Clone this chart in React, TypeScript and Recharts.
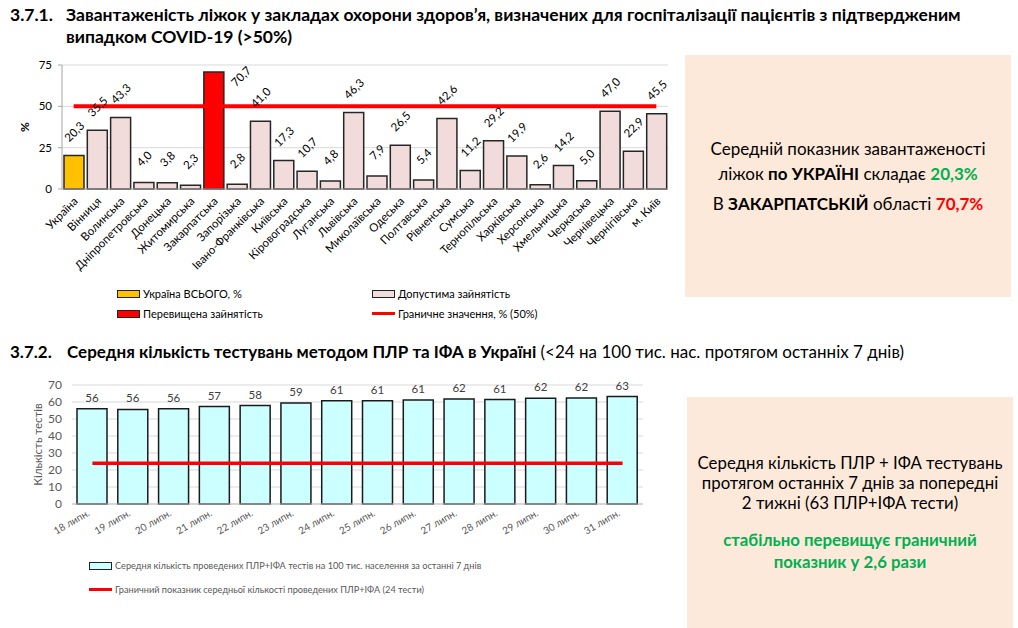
import React from 'react';
import { BarChart, Bar, XAxis, YAxis, CartesianGrid, Cell, LabelList, ReferenceLine, Legend } from 'recharts';

const FONT = 'Lato, "Noto Sans", sans-serif';

// 3.7.1 — bed occupancy by region, %
const regions = [
  'Україна', 'Вінниця', 'Волинська', 'Дніпропетровська', 'Донецька', 'Житомирська', 'Закарпатська',
  'Запорізька', 'Івано-Франківська', 'Київська', 'Кіровоградська', 'Луганська', 'Львівська',
  'Миколаївська', 'Одеська', 'Полтавська', 'Рівненська', 'Сумська', 'Тернопільська', 'Харківська',
  'Херсонська', 'Хмельницька', 'Черкаська', 'Чернівецька', 'Чернігівська', 'м. Київ',
];
const occupancy = [
  20.3, 35.5, 43.3, 4.0, 3.8, 2.3, 70.7, 2.8, 41.0, 17.3, 10.7, 4.8, 46.3,
  7.9, 26.5, 5.4, 42.6, 11.2, 29.2, 19.9, 2.6, 14.2, 5.0, 47.0, 22.9, 45.5,
];
const occupancyTicks = [0, 25, 50, 75];
const BED_LIMIT = 50;

// 3.7.2 — PCR + ELISA tests per 100k, 7-day average
const days = [
  '18 липн.', '19 липн.', '20 липн.', '21 липн.', '22 липн.', '23 липн.', '24 липн.',
  '25 липн.', '26 липн.', '27 липн.', '28 липн.', '29 липн.', '30 липн.', '31 липн.',
];
const testsPer100k = [56.1, 55.6, 56.1, 57.3, 57.9, 59.4, 60.8, 60.8, 61.2, 61.8, 61.4, 62.2, 62.4, 63.2];
const testTicks = [0, 10, 20, 30, 40, 50, 60, 70];
const TEST_LIMIT = 24;

const bedData = regions.map((name, i) => ({ name, value: occupancy[i] }));
const testData = days.map((day, i) => ({ day, value: testsPer100k[i] }));

const fmtComma = (v: any) => Number(v).toFixed(1).replace('.', ',');

const barFill = (name: string, value: number) => {
  if (name === 'Україна') return '#FFC000';
  if (value > BED_LIMIT) return '#FF0000';
  return '#F2DCDB';
};

const BedLabel = (props: any) => {
  const { x, y, width, value } = props;
  const cx = Number(x) + Number(width) / 2;
  let lx = cx;
  let ly = Number(y) - 24;
  // no room above the plot: Excel moves the label beside the bar
  if (ly < 15) {
    lx = cx + 27;
    ly = Number(y) + 4;
  }
  return (
    <text x={lx} y={ly} transform={`rotate(-45 ${lx} ${ly})`} textAnchor="middle"
      dominantBaseline="central" fontSize={11.5} fill="#000" fontFamily={FONT}>
      {fmtComma(value)}
    </text>
  );
};

const RegionTick = (props: any) => {
  const { x, y, payload } = props;
  const px = x + 5;
  const py = y + 5;
  return (
    <text x={px} y={py} transform={`rotate(-45 ${px} ${py})`} textAnchor="end"
      fontSize={11.5} fill="#000" fontFamily={FONT}>
      {payload.value}
    </text>
  );
};

const DayTick = (props: any) => {
  const { x, y, payload } = props;
  const px = x - 2;
  const py = y + 3;
  return (
    <text x={px} y={py} transform={`rotate(-30 ${px} ${py})`} textAnchor="end"
      fontSize={10} fill="#595959" fontFamily={FONT}>
      {payload.value}
    </text>
  );
};

const Swatch = ({ fill }: { fill: string }) => (
  <span style={{ display: 'inline-block', width: 21, height: 6, background: fill, border: '1px solid #222', marginRight: 3 }} />
);
const RedDash = () => (
  <span style={{ display: 'inline-block', width: 23, height: 3, background: '#FF0000', marginRight: 3, verticalAlign: 'middle' }} />
);

const BedLegend = () => (
  <div style={{ position: 'relative', width: 680, height: 40, fontFamily: FONT, fontSize: 11, color: '#000' }}>
    <div style={{ position: 'absolute', left: 117, top: 0, display: 'flex', alignItems: 'center' }}><Swatch fill="#FFC000" />Україна ВСЬОГО, %</div>
    <div style={{ position: 'absolute', left: 372, top: 0, display: 'flex', alignItems: 'center' }}><Swatch fill="#F2DCDB" />Допустима зайнятість</div>
    <div style={{ position: 'absolute', left: 117, top: 20, display: 'flex', alignItems: 'center' }}><Swatch fill="#FF0000" />Перевищена зайнятість</div>
    <div style={{ position: 'absolute', left: 372, top: 20, display: 'flex', alignItems: 'center' }}><RedDash />Граничне значення, % (50%)</div>
  </div>
);

const TestLegend = () => (
  <div style={{ position: 'relative', width: 660, height: 44, fontFamily: FONT, fontSize: 9.2, color: '#595959' }}>
    <div style={{ position: 'absolute', left: 89, top: 0, display: 'flex', alignItems: 'center' }}><Swatch fill="#CCFFFF" />Середня кількість проведених ПЛР+ІФА тестів на 100 тис. населення за останні 7 днів</div>
    <div style={{ position: 'absolute', left: 89, top: 24, display: 'flex', alignItems: 'center' }}><RedDash />Граничний показник середньої кількості проведених ПЛР+ІФА (24 тести)</div>
  </div>
);

const BedChart = () => (
  <BarChart width={680} height={280} data={bedData} margin={{ top: 15, right: 12, left: 0, bottom: 0 }}>
    <CartesianGrid vertical={false} stroke="#D9D9D9" />
    <XAxis dataKey="name" interval={0} height={141} tickLine={false} stroke="#A6A6A6" tick={<RegionTick />} />
    <YAxis width={62} domain={[0, 75]} ticks={occupancyTicks} interval={0} stroke="#A6A6A6" tickSize={4} tickMargin={6}
      tick={{ fill: '#000', fontSize: 11.5, fontFamily: FONT }}
      label={({ viewBox }: any) => {
        const lx = 24;
        const ly = viewBox.y + viewBox.height / 2;
        return <text x={lx} y={ly} transform={`rotate(-90 ${lx} ${ly})`} textAnchor="middle" dominantBaseline="central" fontSize={12} fontWeight="bold" fontFamily={FONT}>%</text>;
      }} />
    <Bar dataKey="value" barSize={20} stroke="#262626" strokeWidth={1.5} isAnimationActive={false}>
      {bedData.map((d, i) => <Cell key={i} fill={barFill(d.name, d.value)} />)}
      <LabelList dataKey="value" content={<BedLabel />} />
    </Bar>
    <ReferenceLine segment={[{ x: regions[0], y: BED_LIMIT }, { x: regions[regions.length - 1], y: BED_LIMIT }]}
      stroke="#FF0000" strokeWidth={4} />
    <Legend layout="horizontal" verticalAlign="middle" align="center"
      wrapperStyle={{ top: 237, left: 0, width: 680, height: 40 }} content={() => <BedLegend />} />
  </BarChart>
);

const TestChart = () => (
  <BarChart width={660} height={240} data={testData} margin={{ top: 15, right: 17, left: 0, bottom: 0 }}>
    <CartesianGrid vertical={false} stroke="#D9D9D9" />
    <XAxis dataKey="day" interval={0} height={106} tickLine={false} stroke="#BFBFBF" tick={<DayTick />} />
    <YAxis width={72} domain={[0, 70]} ticks={testTicks} interval={0} axisLine={false} tickLine={false} tickSize={0} tickMargin={10}
      tick={{ fill: '#595959', fontSize: 12, fontFamily: FONT }}
      label={({ viewBox }: any) => {
        const lx = 37;
        const ly = viewBox.y + viewBox.height / 2;
        return <text x={lx} y={ly} transform={`rotate(-90 ${lx} ${ly})`} textAnchor="middle" dominantBaseline="central" fontSize={11.5} fill="#595959" fontFamily={FONT}>Кількість тестів</text>;
      }} />
    <Bar dataKey="value" barSize={30} fill="#CCFFFF" stroke="#1a1a1a" strokeWidth={1.5} isAnimationActive={false}>
      <LabelList dataKey="value" position="top" offset={7} formatter={(v: any) => String(Math.round(Number(v)))}
        style={{ fill: '#404040', fontSize: 11.5, fontFamily: FONT }} />
    </Bar>
    <ReferenceLine segment={[{ x: days[0], y: TEST_LIMIT }, { x: days[days.length - 1], y: TEST_LIMIT }]}
      stroke="#FF0000" strokeWidth={3.5} />
    <Legend layout="horizontal" verticalAlign="middle" align="center"
      wrapperStyle={{ top: 190, left: 0, width: 660, height: 44 }} content={() => <TestLegend />} />
  </BarChart>
);

const boxStyle: React.CSSProperties = {
  position: 'absolute', background: '#FDE9D9', display: 'flex', flexDirection: 'column',
  alignItems: 'center', justifyContent: 'center', textAlign: 'center', fontFamily: FONT, color: '#000',
};

export default function App() {
  return (
    <div style={{ position: 'absolute', left: 0, top: 0, width: 1018, height: 628, background: '#fff', fontFamily: FONT, overflow: 'hidden' }}>
      <div style={{ position: 'absolute', left: 10, top: 4, fontSize: 17.5, fontWeight: 'bold', lineHeight: '22px', whiteSpace: 'nowrap' }}>
        <div><span style={{ display: 'inline-block', width: 56 }}>3.7.1.</span>Завантаженість ліжок у закладах охорони здоров’я, визначених для госпіталізації пацієнтів з підтвердженим</div>
        <div style={{ paddingLeft: 56 }}>випадком COVID-19 (&gt;50%)</div>
      </div>

      <div style={{ position: 'absolute', left: 0, top: 50 }}>
        <BedChart />
      </div>

      <div style={{ ...boxStyle, left: 685, top: 55, width: 326, height: 242, fontSize: 17, lineHeight: '25px' }}>
        <div>Середній показник завантаженості</div>
        <div>ліжок <b>по УКРАЇНІ</b> складає <b style={{ color: '#00B050' }}>20,3%</b></div>
        <div style={{ marginTop: 5 }}>В <b>ЗАКАРПАТСЬКІЙ</b> області <b style={{ color: '#FF0000' }}>70,7%</b></div>
      </div>

      <div style={{ position: 'absolute', left: 10, top: 341, fontSize: 17, lineHeight: '22px', whiteSpace: 'nowrap' }}>
        <span style={{ display: 'inline-block', width: 57, fontWeight: 'bold' }}>3.7.2.</span>
        <b>Середня кількість тестувань методом ПЛР та ІФА в Україні</b> (&lt;24 на 100 тис. нас. протягом останніх 7 днів)
      </div>

      <div style={{ position: 'absolute', left: 0, top: 370 }}>
        <TestChart />
      </div>

      <div style={{ ...boxStyle, left: 687, top: 397, width: 326, height: 231, fontSize: 16.8, lineHeight: '20px' }}>
        <div>Середня кількість ПЛР + ІФА тестувань</div>
        <div>протягом останніх 7 днів за попередні</div>
        <div>2 тижні (63 ПЛР+ІФА тести)</div>
        <div style={{ marginTop: 17, color: '#00B050', fontWeight: 'bold' }}>стабільно перевищує граничний</div>
        <div style={{ marginTop: 2, color: '#00B050', fontWeight: 'bold' }}>показник у 2,6 рази</div>
      </div>
    </div>
  );
}
